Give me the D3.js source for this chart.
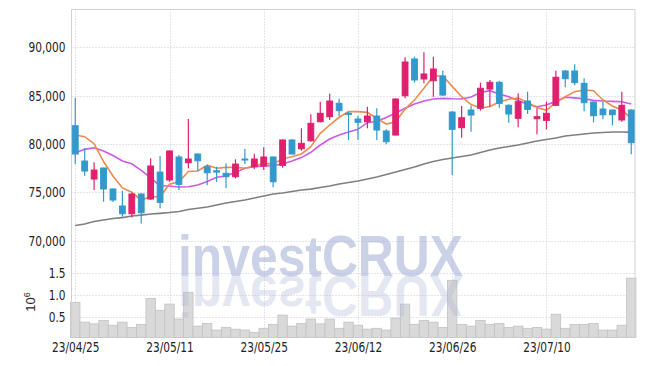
<!DOCTYPE html>
<html><head><meta charset="utf-8">
<script src="https://cdnjs.cloudflare.com/ajax/libs/d3/7.8.5/d3.min.js"></script>
<style>html,body{margin:0;padding:0;background:#fff;}svg{display:block;}</style>
</head><body><svg id="c" width="645" height="366"></svg>
<script>
const dates = ["23/04/25","23/04/26","23/04/27","23/04/28","23/05/02","23/05/03","23/05/04","23/05/08","23/05/09","23/05/10",
"23/05/11","23/05/12","23/05/15","23/05/16","23/05/17","23/05/18","23/05/19","23/05/22","23/05/23","23/05/24",
"23/05/25","23/05/26","23/05/30","23/05/31","23/06/01","23/06/02","23/06/05","23/06/07","23/06/08","23/06/09",
"23/06/12","23/06/13","23/06/14","23/06/15","23/06/16","23/06/19","23/06/20","23/06/21","23/06/22","23/06/23",
"23/06/26","23/06/27","23/06/28","23/06/29","23/06/30","23/07/03","23/07/04","23/07/05","23/07/06","23/07/07",
"23/07/10","23/07/11","23/07/12","23/07/13","23/07/14","23/07/17","23/07/18","23/07/19","23/07/20","23/07/21"];
const open  = [81890,78230,76370,77510,75340,73580,72780,74820,74300,77090,76270,78650,78060,78960,77640,77230,76960,76610,78440,77640,
77710,78650,77790,80410,79500,80330,82300,82820,84200,83170,82580,82300,82890,81340,80920,84990,88790,86720,86540,87030,
83300,81680,83510,83690,85680,86380,84000,82650,84440,82610,82440,84000,87550,87550,86270,84340,83610,83510,82480,83510];
const close = [78960,77200,77300,75340,74200,72780,74820,72880,77720,73960,79270,75820,78440,78260,77020,77090,76610,77920,78370,78440,
78650,76090,80410,78960,80060,82130,83170,84440,83440,83070,82240,82890,81440,80230,84650,88480,86620,87240,87750,85060,
81510,82710,82990,85760,86380,84200,83100,84370,83580,82820,83170,86900,86750,86340,84270,82920,83020,83020,84000,80130];
const high  = [84780,79550,78100,77550,75400,75160,74950,74900,78510,78750,79340,78850,82580,79000,77850,77640,77990,78410,79470,78990,
79650,78700,80480,80480,81620,83070,84370,85200,84680,83300,82920,83850,83690,81510,84720,88970,89030,89480,89030,87580,
83400,83930,83960,86340,86620,86540,84100,85240,85410,83690,84370,87580,87650,88240,86790,84400,84370,83550,85410,83600];
const low   = [77890,76710,75230,74020,73990,72470,72400,71780,74200,73340,76090,75230,77480,77230,75720,76090,75410,76440,77920,77370,
77300,75510,77540,78900,79300,80230,82240,82480,82890,80410,80410,81620,80410,79960,80900,84720,86340,86270,84890,84960,
76780,80640,81270,83440,83850,83750,82200,81720,83100,81000,81510,83930,85860,86070,83380,82240,82550,81930,82300,78930];
const ma5   = [80920,80750,80030,78180,76680,75450,75000,74200,74540,74540,75830,76090,77150,77200,77800,77480,77580,77580,77480,77720,
77990,77920,78460,78680,78960,79710,81100,81960,82760,83340,83340,83270,82650,82060,82300,83610,84550,85760,87030,87030,
85960,84890,84080,83720,83870,84340,84620,84750,84290,83770,83480,84290,84890,85410,85580,85510,84550,83930,83510,82650];
const ma20  = [79090,79440,79610,79270,78800,78230,77950,77270,76490,75670,75650,75540,75570,75750,76110,76550,76680,77060,77480,77640,
77720,77770,77920,78230,78590,79140,79890,80510,80920,81230,81510,82200,82350,82730,83200,83690,84130,84440,84650,84720,
84670,84650,84860,85320,85510,85170,84890,84490,84080,83850,84030,84410,84830,84770,84670,84510,84440,84410,84370,84130];
const ma60  = [71560,71710,71970,72130,72280,72380,72540,72640,72750,72820,72900,73010,73210,73340,73470,73680,73890,74040,74200,74400,
74610,74820,74920,75080,75230,75330,75490,75650,75850,76010,76160,76370,76580,76840,77090,77350,77610,77920,78180,78390,
78540,78700,78850,79110,79370,79580,79730,79890,80100,80300,80460,80610,80820,80920,81030,81130,81180,81230,81230,81200];
const volume = [0.84,0.39,0.35,0.43,0.32,0.39,0.27,0.34,0.93,0.66,0.80,0.46,1.07,0.30,0.36,0.21,0.27,0.23,0.21,0.16,
0.25,0.34,0.55,0.30,0.36,0.46,0.35,0.46,0.25,0.39,0.32,0.23,0.25,0.21,0.48,0.80,0.34,0.43,0.39,0.27,
1.34,0.34,0.30,0.43,0.34,0.36,0.27,0.30,0.25,0.27,0.23,0.57,0.25,0.34,0.34,0.36,0.21,0.21,0.32,1.39];
const priceTicks = [70000,75000,80000,85000,90000];
const volumeTicks = [0.5,1.0,1.5];
const dateTickLabels = ["23/04/25","23/05/11","23/05/25","23/06/12","23/06/26","23/07/10"];

const svg = d3.select("#c");
const L = 71.5, R = 635, T = 9.5, B = 337.5;
const FONT = "'DejaVu Sans Condensed', 'DejaVu Sans', sans-serif";
const WFONT = "'Liberation Sans', Arial, sans-serif";
const idx = d3.range(dates.length);
const x = d3.scaleLinear().domain([-0.4, dates.length - 0.6]).range([L, R]);
const y = d3.scaleLinear().domain([70000, 90000]).range([240.6, 47.3]);
const yv = d3.scaleLinear().domain([0, 1.5]).range([339.3, 273.3]);
const dateIdx = dateTickLabels.map(d => dates.indexOf(d));

// grid
const grid = svg.append("g").attr("stroke", "#c6c9da").attr("stroke-width", 1).attr("stroke-dasharray", "1,2");
grid.selectAll("line.h").data(priceTicks).join("line")
  .attr("x1", L).attr("x2", R).attr("y1", d => Math.round(y(d)) + 0.5).attr("y2", d => Math.round(y(d)) + 0.5);
grid.selectAll("line.v").data(volumeTicks).join("line")
  .attr("x1", L).attr("x2", R).attr("y1", d => Math.round(yv(d)) + 0.5).attr("y2", d => Math.round(yv(d)) + 0.5);
grid.selectAll("line.d").data(dateIdx).join("line")
  .attr("y1", T).attr("y2", B).attr("x1", d => Math.round(x(d)) + 0.5).attr("x2", d => Math.round(x(d)) + 0.5);

// volume bars
svg.append("g").selectAll("rect").data(idx).join("rect")
  .attr("x", i => x(i - 0.5)).attr("width", i => x(i + 0.5) - x(i - 0.5))
  .attr("y", i => yv(volume[i])).attr("height", i => B - yv(volume[i]))
  .attr("fill", "#d9d9d9").attr("stroke", "#c2c2c2").attr("stroke-width", 0.8);

// watermark (main text + mirrored reflection via <use>)
svg.append("text").attr("id", "wmtext").attr("x", 178).attr("y", 276)
  .attr("font-family", WFONT).attr("font-weight", "bold").attr("font-size", 58)
  .attr("textLength", 285).attr("lengthAdjust", "spacingAndGlyphs")
  .attr("fill", "#a9b3d6").attr("fill-opacity", 0.6).text("investCRUX");
svg.append("use").attr("href", "#wmtext").attr("transform", "translate(0,552) scale(1,-1)").attr("opacity", 0.5);

// frame
svg.append("path").attr("d", `M${L},${B}V${T}H${R}V${B}`).attr("fill", "none").attr("stroke", "#d0d0d0").attr("stroke-width", 1);

// MA lines
const lineGen = arr => d3.line().x(i => x(i)).y(i => y(arr[i]))(idx);
svg.append("path").attr("d", lineGen(ma60)).attr("fill", "none").attr("stroke", "#7f7f7f").attr("stroke-width", 1.6);
svg.append("path").attr("d", lineGen(ma20)).attr("fill", "none").attr("stroke", "#cc5ae8").attr("stroke-width", 1.6);
svg.append("path").attr("d", lineGen(ma5)).attr("fill", "none").attr("stroke", "#ee8a4e").attr("stroke-width", 1.6);

// candles
const UP = "#e0206e", DOWN = "#3399cc";
const cw = 6.8;
const cg = svg.append("g").selectAll("g").data(idx).join("g")
  .attr("stroke", i => close[i] >= open[i] ? UP : DOWN)
  .attr("fill", i => close[i] >= open[i] ? UP : DOWN);
cg.append("line").attr("x1", i => x(i)).attr("x2", i => x(i)).attr("y1", i => y(high[i])).attr("y2", i => y(low[i])).attr("stroke-width", 1.2);
cg.append("rect").attr("x", i => x(i) - cw / 2 + 0.5).attr("width", cw - 1)
  .attr("y", i => y(Math.max(open[i], close[i])))
  .attr("height", i => Math.max(1, Math.abs(y(open[i]) - y(close[i]))))
  .attr("stroke-width", 1);

// axes
const yAxis = d3.axisLeft(y).tickValues(priceTicks).tickFormat(d3.format(",")).tickSize(0).tickPadding(6);
const ga = svg.append("g").attr("transform", `translate(${L},0)`).call(yAxis);
const vAxis = d3.axisLeft(yv).tickValues(volumeTicks).tickFormat(d3.format(".1f")).tickSize(0).tickPadding(6);
const gv = svg.append("g").attr("transform", `translate(${L},0)`).call(vAxis);
const xAxis = d3.axisBottom(x).tickValues(dateIdx).tickFormat(i => dates[i]).tickSize(0).tickPadding(9);
const gx = svg.append("g").attr("transform", `translate(0,${B - 4})`).call(xAxis);
[ga, gv, gx].forEach(g => {
  g.select(".domain").remove();
  g.selectAll("text").attr("font-family", FONT).attr("font-size", 14).attr("fill", "#222")
    .each(function () {
      const w = this.getComputedTextLength();
      d3.select(this).attr("textLength", w * 0.84).attr("lengthAdjust", "spacingAndGlyphs");
    });
});

// unit label
const u = svg.append("text").attr("transform", "translate(35,302) rotate(-90)")
  .attr("font-family", WFONT).attr("font-size", 13).attr("fill", "#2a2a2a").attr("text-anchor", "middle");
u.append("tspan").text("10");
u.append("tspan").attr("font-size", 9).attr("dy", -5).text("6");
</script></body></html>
